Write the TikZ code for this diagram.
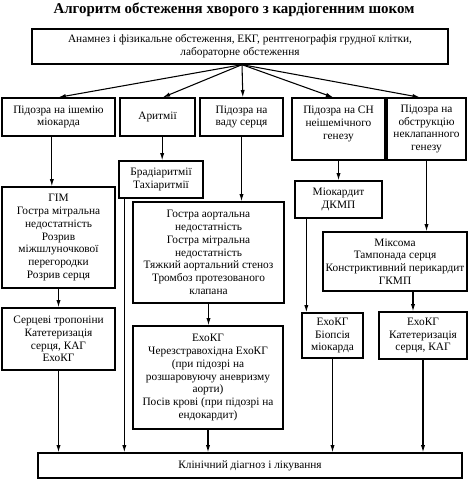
\documentclass[tikz,border=0pt]{standalone}
\usepackage{fontspec}
\setmainfont{Liberation Serif}
\usepackage{tikz}
\usetikzlibrary{arrows.meta, positioning}
\tikzset{%
	every box/.style={
		draw,
		line width=1pt,
		align=center,
		inner sep=1pt,
		font=\fontsize{8.5}{9.6}\selectfont
	},
	flow/.style={
		->,
		line width=0.8pt
	},
}

\begin{document}
\begin{tikzpicture}[
				x=0.75pt, y=-0.75pt,
				>={Latex[length=5.5pt,width=3.2pt]},
				every node/.style={every box}
				]
				\useasboundingbox (0,0) rectangle (469,481);
				\node[draw=none, font=\bfseries\fontsize{11.2}{13}\selectfont] (title) at (234,10) {Алгоритм обстеження хворого з кардіогенним шоком};
				
				% first level
				\node[minimum width=312pt, minimum height=26.25pt] (exam) at (240,46.5) {Анамнез і фізикальне обстеження, ЕКГ, рентгенографія грудної клітки,\\ лабораторне обстеження};
				
				% suspicions
				\node[minimum width=84.75pt, minimum height=28.5pt] (isch) at (58.5,117) {Підозра на ішемію\\ міокарда};
				\node[minimum width=56.25pt, minimum height=28.5pt] (arr) at (157.5,117) {Аритмії};
				\node[minimum width=62.25pt, minimum height=28.5pt] (valve) at (241.5,117) {Підозра на\\ ваду серця};
				\node[minimum width=69.75pt, minimum height=46.5pt] (hf) at (338.5,129) {Підозра на СН\\ неішемічного\\ генезу\\ \mbox{}};
				\node[minimum width=59.25pt, minimum height=46.5pt] (obstr) at (426.5,129) {Підозра на\\ обструкцію\\ неклапанного\\ генезу};
				
				% causes
				\node[minimum width=84.75pt, minimum height=75.75pt] (isch cause) at (58.5,237.5) {ГІМ\\ Гостра мітральна\\ недостатність\\ Розрив\\ міжшлуночкової\\ перегородки\\ Розрив серця};
				\node[minimum width=63pt, minimum height=27.75pt] (arr cause) at (161,179.5) {Брадіаритмії\\ Тахіаритмії};
				\node[minimum width=113.25pt, minimum height=75.75pt] (valve cause) at (208.5,252.5) {Гостра аортальна\\ недостатність\\ Гостра мітральна\\ недостатність\\ Тяжкий аортальний стеноз\\ Тромбоз протезованого\\ клапана};
				\node[minimum width=65.25pt, minimum height=27.75pt] (hf cause) at (338.5,199.5) {Міокардит\\ ДКМП};
				\node[minimum width=108pt, minimum height=44.25pt] (obstr cause) at (395,261.5) {Міксома\\ Тампонада серця\\ Констриктивний перикардит\\ ГКМП};
				
				% tests
				\node[minimum width=84.75pt, minimum height=46.5pt] (isch test) at (58.5,339) {Серцеві тропоніни\\ Катетеризація\\ серця, КАГ\\ ЕхоКГ};
				\node[minimum width=112.5pt, minimum height=77.25pt] (valve test) at (208,377.5) {ЕхоКГ\\ Черезстравохідна ЕхоКГ\\ (при підозрі на\\ розшаровуючу аневризму\\ аорти)\\ Посів крові (при підозрі на\\ ендокардит)};
				\node[minimum width=45.75pt, minimum height=33.75pt] (hf test) at (332.5,335.5) {ЕхоКГ\\ Біопсія\\ міокарда};
				\node[minimum width=66pt, minimum height=35.25pt] (obstr test) at (423,335.5) {ЕхоКГ\\ Катетеризація\\ серця, КАГ};
				
				% result
				\node[minimum width=318pt, minimum height=18.75pt] (result) at (250,465.5) {Клінічний діагноз і лікування};
				
				% helper points
				\coordinate (fan) at ([xshift=1.5pt]exam.south);
				\coordinate (isch out) at ([xshift=-5pt]isch.south);
				\coordinate (arr out) at ([xshift=3.5pt]arr.south);
				\coordinate (arr cause out) at ([xshift=4.5pt]arr cause.south west);
				\coordinate (hf cause out) at ([xshift=9pt]hf cause.south west);
				\coordinate (obstr cause out) at ([xshift=13.5pt]obstr cause.south);
				
				% connectors
				\draw[flow] (fan) -- (isch.north);
				\draw[flow] (fan) -- ([xshift=4pt]arr.north);
				\draw[flow] (fan) -- ([xshift=1pt]valve.north);
				\draw[flow] (fan) -- ([xshift=-4pt]hf.north);
				\draw[flow] (fan) -- ([xshift=-5pt]obstr.north);
				
				\draw[flow] (isch out) -- (isch out |- isch cause.north);
				\draw[flow] (arr out) -- (arr out |- arr cause.north);
				\draw[flow] (valve.south) -- (valve.south |- valve cause.north);
				\draw[flow] (hf.south) -- (hf cause.north);
				\draw[flow] (obstr.south) -- (obstr.south |- obstr cause.north);
				
				\draw[flow] (isch cause.south) -- (isch test.north);
				\draw[flow] (arr cause out) -- (arr cause out |- result.north);
				\draw[flow] (valve cause.south) -- (valve cause.south |- valve test.north);
				\draw[flow] (hf cause out) -- (hf cause out |- hf test.north);
				\draw[flow] (obstr cause out) -- (obstr cause out |- obstr test.north);
				
				\draw[flow] (isch test.south) -- (isch test.south |- result.north);
				\draw[flow] (valve test.south) -- (valve test.south |- result.north);
				\draw[flow] (hf test.south) -- (hf test.south |- result.north);
				\draw[flow] (obstr test.south) -- (obstr test.south |- result.north);
				
			\end{tikzpicture}
\end{document}
